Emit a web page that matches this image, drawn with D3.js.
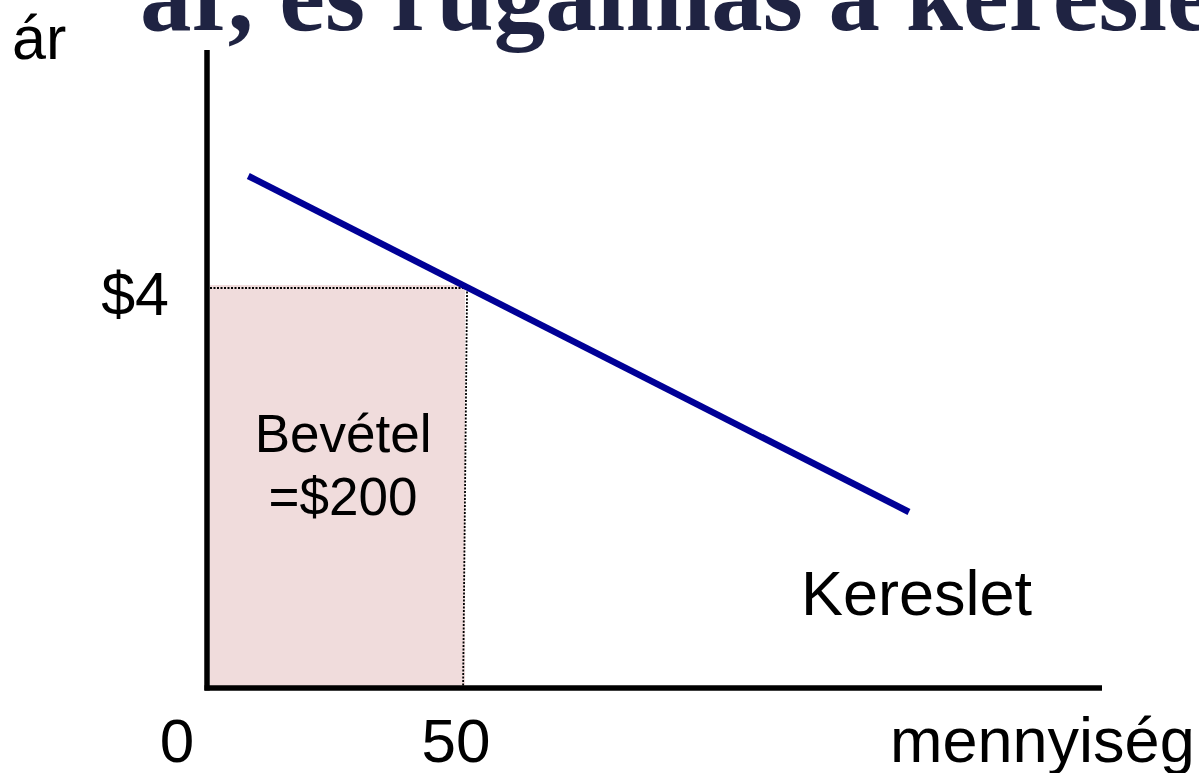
<!DOCTYPE html>
<html>
<head>
<meta charset="utf-8">
<script src="https://cdn.jsdelivr.net/npm/d3@7"></script>
<style>
  html, body { margin: 0; padding: 0; background: #ffffff; overflow: hidden; }
  svg { display: block; }
</style>
</head>
<body>
<svg id="chart" width="1199" height="773"></svg>
<script>
// ---- data ----
const titleText = "ár, és rugalmas a kereslet";
const xTicks = [0, 50];
const xTickLabels = ["0", "50"];
const yTicks = [4];
const yTickLabels = ["$4"];
const demandQ = [8, 136];
const demandP = [5.12, 1.76];
const revenuePrice = 4;
const revenueQty = 50;
const revenueLabel = ["Bevétel", "=$200"];
const demandLabel = "Kereslet";
const xAxisLabel = "mennyiség";
const yAxisLabel = "ár";

// ---- scales ----
const x = d3.scaleLinear().domain([0, 173.4]).range([207, 1102]);
const y = d3.scaleLinear().domain([0, 6.38]).range([688, 50]);

const svg = d3.select("#chart");
const sans = "Liberation Sans, Arial, sans-serif";

// revenue rectangle
svg.append("rect")
  .attr("x", x(0) + 3)
  .attr("y", y(revenuePrice) - 3)
  .attr("width", x(revenueQty) - x(0) - 3)
  .attr("height", y(0) - y(revenuePrice) + 3)
  .attr("fill", "#f0dcdc");

// dotted guide lines
svg.append("line")
  .attr("x1", x(0) + 3).attr("x2", x(revenueQty) + 2)
  .attr("y1", y(revenuePrice)).attr("y2", y(revenuePrice))
  .attr("stroke", "#000").attr("stroke-width", 1.8)
  .attr("stroke-dasharray", "2,1.5");
svg.append("line")
  .attr("x1", x(revenueQty) + 2).attr("x2", x(revenueQty) - 2)
  .attr("y1", y(revenuePrice)).attr("y2", y(0))
  .attr("stroke", "#000").attr("stroke-width", 1.8)
  .attr("stroke-dasharray", "2,1.5");

// axes
svg.append("line")
  .attr("x1", x(0)).attr("x2", x(0))
  .attr("y1", y(6.38)).attr("y2", y(0) + 2.5)
  .attr("stroke", "#000").attr("stroke-width", 5.5);
svg.append("line")
  .attr("x1", x(0) - 2.5).attr("x2", x(173.4))
  .attr("y1", y(0)).attr("y2", y(0))
  .attr("stroke", "#000").attr("stroke-width", 5.5);

// demand line
const line = d3.line().x(d => x(d[0])).y(d => y(d[1]));
svg.append("path")
  .datum(d3.zip(demandQ, demandP))
  .attr("d", line)
  .attr("fill", "none")
  .attr("stroke", "#000096")
  .attr("stroke-width", 6.5);

// tick labels
const xOffsets = [-30, -9];
svg.selectAll("text.xtick").data(xTicks).enter().append("text")
  .attr("class", "xtick")
  .attr("x", (d, i) => x(d) + xOffsets[i])
  .attr("y", 762)
  .attr("text-anchor", "middle")
  .attr("font-family", sans).attr("font-size", 62)
  .text((d, i) => xTickLabels[i]);

svg.selectAll("text.ytick").data(yTicks).enter().append("text")
  .attr("class", "ytick")
  .attr("x", x(0) - 38)
  .attr("y", d => y(d) + 27)
  .attr("text-anchor", "end")
  .attr("font-family", sans).attr("font-size", 61)
  .text((d, i) => yTickLabels[i]);

// axis labels
svg.append("text")
  .attr("x", 12).attr("y", 59)
  .attr("font-family", sans).attr("font-size", 61)
  .text(yAxisLabel);
svg.append("text")
  .attr("x", 890).attr("y", 762)
  .attr("font-family", sans).attr("font-size", 63)
  .text(xAxisLabel);

// demand label
svg.append("text")
  .attr("x", 801).attr("y", 615)
  .attr("font-family", sans).attr("font-size", 63)
  .text(demandLabel);

// revenue label
const cx = (x(0) + x(revenueQty)) / 2 + 7;
svg.append("text")
  .attr("x", cx).attr("y", 452)
  .attr("text-anchor", "middle")
  .attr("font-family", sans).attr("font-size", 53)
  .text(revenueLabel[0]);
svg.append("text")
  .attr("x", cx).attr("y", 515)
  .attr("text-anchor", "middle")
  .attr("font-family", sans).attr("font-size", 53)
  .text(revenueLabel[1]);

// title (cut off at top)
svg.append("text")
  .attr("x", 140).attr("y", 30)
  .attr("font-family", "Liberation Serif, Times New Roman, serif")
  .attr("font-weight", "bold")
  .attr("font-size", 103)
  .attr("fill", "#1f2342")
  .text(titleText);
</script>
</body>
</html>
